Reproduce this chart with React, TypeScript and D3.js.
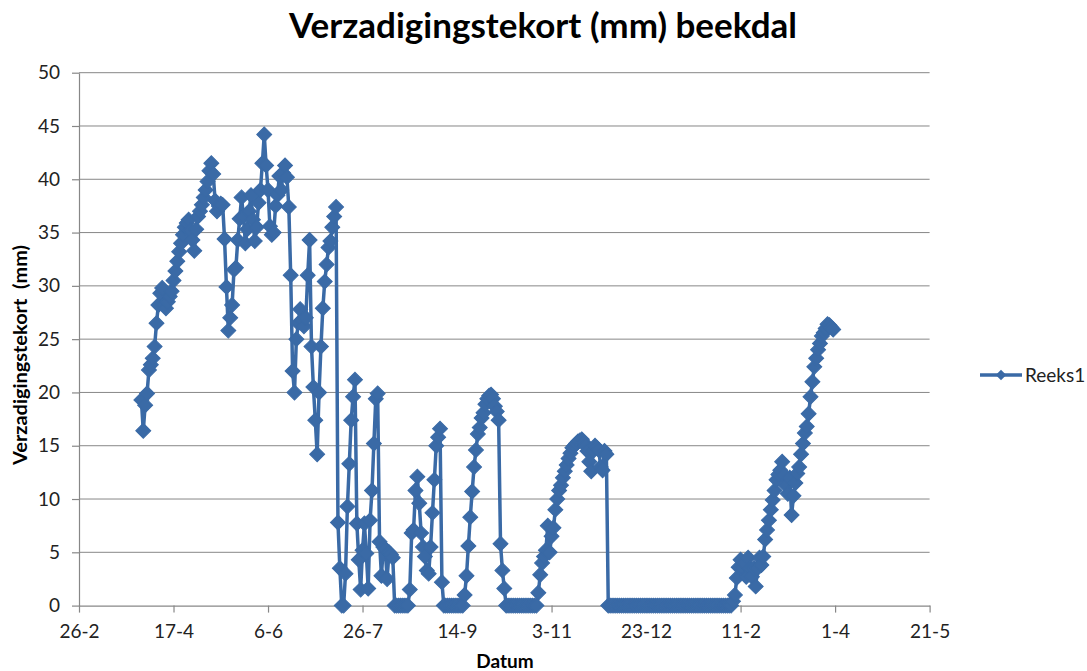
import { useEffect, useRef } from 'react';
import * as d3 from 'd3';

const WIDTH = 1087;
const HEIGHT = 671;
const MARGIN = { top: 72.7, right: 157.4, bottom: 65.4, left: 79 };

const TITLE = 'Verzadigingstekort (mm) beekdal';
const Y_LABEL = 'Verzadigingstekort  (mm)';
const X_LABEL = 'Datum';
const SERIES_NAME = 'Reeks1';

// x axis runs in days after 26-2, a tick every 50 days
const X_TICK_LABELS = ['26-2', '17-4', '6-6', '26-7', '14-9', '3-11', '23-12', '11-2', '1-4', '21-5'];
const TICK_STEP_DAYS = 50;
const Y_TICKS = [0, 5, 10, 15, 20, 25, 30, 35, 40, 45, 50];

// first measurement, in days after 26-2; then one value per day
const FIRST_DAY = 33;
const DEFICIT = [
  19.3, 16.4, 18.8, 19.9, 22.1, 22.6, 23.2, 24.3, 26.5, 28.2,
  29.3, 29.8, 28.2, 27.9, 28.5, 29, 29.5, 30.5, 31.4, 32.3,
  33.2, 34, 34.8, 35.5, 35.9, 36.2, 35.2, 34.3, 33.3, 35.3,
  36.5, 37, 37.6, 38.3, 39, 39.8, 40.8, 41.5, 40.5, 38,
  37, 37.5, 37.7, 37.6, 34.4, 29.9, 25.8, 27, 28.2, 31.5,
  31.7, 34.3, 36.3, 38.3, 36.5, 34, 35.3, 37, 38.5, 36.2,
  34.2, 35.5, 37.8, 39, 41.5, 44.2, 41.3, 39, 35.6, 34.8,
  35, 37.5, 38.5, 40.3, 39, 40.6, 41.3, 40.2, 37.4, 31,
  22, 20, 25, 26.5, 27.8, 26.8, 26.2, 27, 31, 34.3,
  24.3, 20.5, 17.4, 14.2, 20, 24.3, 27.9, 30.4, 32, 33.6,
  34.2, 35.5, 36.5, 37.4, 7.8, 3.5, 0, 0, 3, 9.3,
  13.3, 17.4, 19.6, 21.2, 7.7, 4.3, 1.5, 5.2, 7.7, 4.9,
  1.6, 8, 10.8, 15.2, 19.4, 19.9, 6, 2.8, 5.5, 5.3,
  2.5, 5, 4.8, 4.5, 0, 0, 0, 0, 0, 0,
  0, 0, 1.5, 6.8, 7.1, 10.8, 12.1, 9.6, 6.8, 5.5,
  4.6, 3.3, 3, 5.5, 8.7, 11.8, 15, 15.8, 16.6, 2.2,
  0, 0, 0, 0, 0, 0, 0, 0, 0, 0,
  0, 1, 2.8, 5.6, 8.3, 10.7, 13, 14.6, 16.1, 16.7,
  17.6, 18.1, 18.9, 19.4, 19.7, 19.8, 19.4, 18.7, 18.2, 17.4,
  5.8, 3.3, 1.6, 0, 0, 0, 0, 0, 0, 0,
  0, 0, 0, 0, 0, 0, 0, 0, 0, 0,
  1.2, 2.9, 4, 4.6, 5.2, 7.5, 5, 6.5, 7.3, 9,
  10, 10.8, 11.3, 12, 12.6, 13.2, 13.8, 14.3, 14.8, 15,
  15.2, 15.4, 15.5, 15.6, 15.3, 15, 14.5, 13.5, 12.6, 14.5,
  15, 14.8, 14.6, 13, 12.7, 14.5, 14.2,
  0, 0, 0, 0, 0, 0, 0, 0, 0, 0,
  0, 0, 0, 0, 0, 0, 0, 0, 0, 0,
  0, 0, 0, 0, 0, 0, 0, 0, 0, 0,
  0, 0, 0, 0, 0, 0, 0, 0, 0, 0,
  0, 0, 0, 0, 0, 0, 0, 0, 0, 0,
  0, 0, 0, 0, 0, 0, 0, 0, 0, 0,
  0, 0, 0, 0, 0, 0,
  0.4, 1, 2.6, 3.6, 4.3, 3.5, 4, 2.7, 4.5, 3.5,
  2.7, 3.5, 1.8, 3.5, 4.5, 3.8, 4.6, 6.2, 7.1, 8,
  9, 9.9, 10.8, 11.8, 12.3, 12.7, 13.5, 12.2, 11.3, 10.5,
  12, 8.5, 10.3, 11.5, 12.4, 13, 14.2, 15.2, 16.2, 16.8,
  18, 19.6, 21, 22.4, 23.2, 24, 24.6, 25.3, 25.6, 26,
  26.4, 26.3, 26.1, 25.9,
];

const BLUE = '#3a6aa6';
const GRID = '#878787';
const FONT = 'Lato, "Open Sans", sans-serif';

export default function App() {
  const svgRef = useRef<SVGSVGElement>(null);

  useEffect(() => {
    if (!svgRef.current) return;
    d3.select(svgRef.current).selectAll('*').remove();

    const svg = d3.select(svgRef.current);
    const innerWidth = WIDTH - MARGIN.left - MARGIN.right;
    const innerHeight = HEIGHT - MARGIN.top - MARGIN.bottom;
    const g = svg.append('g').attr('transform', `translate(${MARGIN.left},${MARGIN.top})`);

    const lastTick = (X_TICK_LABELS.length - 1) * TICK_STEP_DAYS;
    const xScale = d3.scaleLinear().domain([0, lastTick]).range([0, innerWidth]);
    const yScale = d3.scaleLinear().domain([0, 50]).range([innerHeight, 0]);

    // gridlines
    g.append('g')
      .selectAll('line')
      .data(Y_TICKS.filter((t) => t > 0))
      .enter()
      .append('line')
      .attr('x1', 0)
      .attr('x2', innerWidth)
      .attr('y1', (d) => yScale(d))
      .attr('y2', (d) => yScale(d))
      .attr('stroke', GRID)
      .attr('stroke-width', 1);

    const yAxis = d3.axisLeft(yScale).tickValues(Y_TICKS).tickSize(7).tickSizeOuter(0).tickPadding(12);
    const yG = g.append('g').call(yAxis);
    yG.selectAll('text').attr('fill', '#222').style('font-size', '19px').style('font-family', FONT);

    const xAxis = d3
      .axisBottom(xScale)
      .tickValues(X_TICK_LABELS.map((_, i) => i * TICK_STEP_DAYS))
      .tickFormat((_, i) => X_TICK_LABELS[i])
      .tickSize(7)
      .tickSizeOuter(0)
      .tickPadding(12);
    const xG = g.append('g').attr('transform', `translate(0,${innerHeight})`).call(xAxis);
    xG.selectAll('text').attr('fill', '#222').style('font-size', '19px').style('font-family', FONT);

    g.selectAll('.domain, .tick line').attr('stroke', GRID).attr('stroke-width', 1.2);

    const points = DEFICIT.map((v, i) => ({ day: FIRST_DAY + i, value: v }));

    const line = d3
      .line<{ day: number; value: number }>()
      .x((d) => xScale(d.day))
      .y((d) => yScale(d.value));

    g.append('path')
      .datum(points)
      .attr('fill', 'none')
      .attr('stroke', BLUE)
      .attr('stroke-width', 3.5)
      .attr('stroke-linejoin', 'round')
      .attr('d', line);

    const diamond = d3.symbol().type(d3.symbolSquare).size(112);
    g.append('g')
      .selectAll('path')
      .data(points)
      .enter()
      .append('path')
      .attr('d', diamond)
      .attr('transform', (d) => `translate(${xScale(d.day)},${yScale(d.value)}) rotate(45)`)
      .attr('fill', BLUE)
      .attr('stroke', BLUE)
      .attr('stroke-width', 1);

    // legend
    const legend = svg.append('g').attr('transform', 'translate(980,375)');
    legend.append('line').attr('x1', 0).attr('x2', 42).attr('stroke', BLUE).attr('stroke-width', 3.5);
    legend
      .append('path')
      .attr('d', d3.symbol().type(d3.symbolSquare).size(55)())
      .attr('transform', 'translate(21,0) rotate(45)')
      .attr('fill', BLUE);
    legend
      .append('text')
      .attr('x', 45)
      .attr('y', 7)
      .attr('fill', '#222')
      .style('font-size', '19px')
      .style('font-family', FONT)
      .text(SERIES_NAME);
  }, []);

  return (
    <div style={{ position: 'fixed', left: 0, top: 0, width: WIDTH, height: HEIGHT, background: '#fff' }}>
      <svg ref={svgRef} width={WIDTH} height={HEIGHT} style={{ position: 'absolute', left: 0, top: 0 }} />
      <svg width={WIDTH} height={HEIGHT} style={{ position: 'absolute', left: 0, top: 0, pointerEvents: 'none' }}>
        <text
          x={543}
          y={38}
          textAnchor="middle"
          textLength={508}
          lengthAdjust="spacingAndGlyphs"
          style={{ fontFamily: FONT, fontWeight: 700, fontSize: 34 }}
          fill="#000"
        >
          {TITLE}
        </text>
        <text
          transform="translate(27,355) rotate(-90)"
          textAnchor="middle"
          textLength={220}
          lengthAdjust="spacingAndGlyphs"
          style={{ fontFamily: FONT, fontWeight: 700, fontSize: 19, whiteSpace: 'pre' }}
          fill="#000"
        >
          {Y_LABEL}
        </text>
        <text x={505} y={668} textAnchor="middle" style={{ fontFamily: FONT, fontWeight: 700, fontSize: 19 }} fill="#000">
          {X_LABEL}
        </text>
      </svg>
    </div>
  );
}
